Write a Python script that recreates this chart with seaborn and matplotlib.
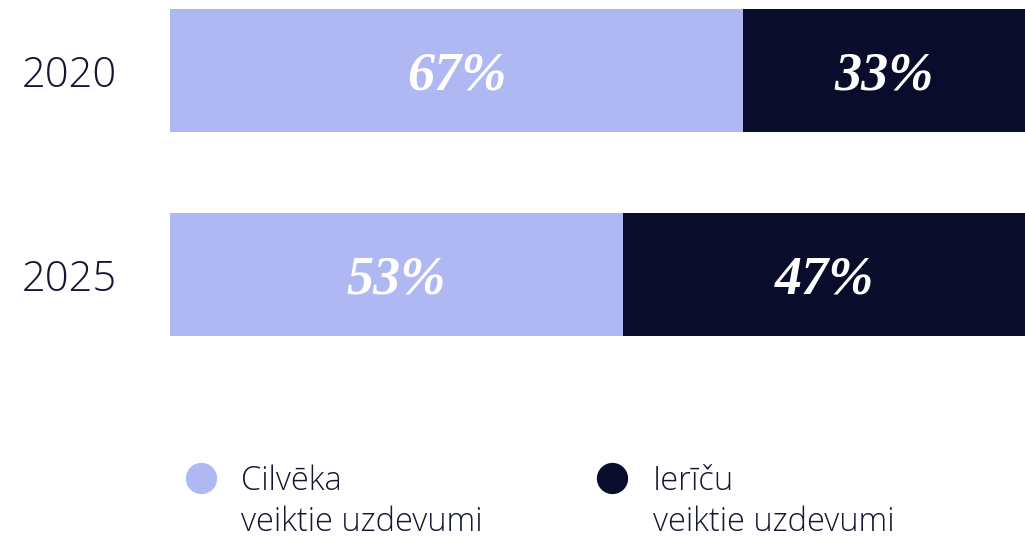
import matplotlib
matplotlib.use('Agg')
import matplotlib.pyplot as plt
from matplotlib.lines import Line2D
import pandas as pd
import seaborn as sns

YEARS = ['2020', '2025']
HUMAN = [67, 53]
MACHINE = [33, 47]
LEGEND_LABELS = ['Cilvēka\nveiktie uzdevumi', 'Ierīču\nveiktie uzdevumi']

LIGHT = '#b0b8f4'
DARK = '#0a0c2b'
TEXT = '#151834'


def main():
    sns.set_style('white')
    plt.rcParams['font.family'] = ['Open Sans', 'DejaVu Sans']

    df = pd.DataFrame({'year': YEARS, 'human': HUMAN, 'machine': MACHINE})
    df['total'] = df['human'] + df['machine']

    fig = plt.figure(figsize=(10.25, 5.39), dpi=100)
    ax = fig.add_axes([170 / 1025, 1 - 345 / 539, 1 - 170 / 1025, 345 / 539])

    # stacked: full bar in dark, then the human share on top in light
    sns.barplot(data=df, x='total', y='year', color=DARK, width=0.603,
                saturation=1, linewidth=0, ax=ax, orient='h')
    sns.barplot(data=df, x='human', y='year', color=LIGHT, width=0.603,
                saturation=1, linewidth=0, ax=ax, orient='h')

    pct_font = dict(color='white', fontsize=39, fontweight='bold',
                    fontstyle='italic', family='Liberation Serif',
                    ha='center', va='center_baseline')
    for i, row in df.iterrows():
        ax.text(row.human / 2, i, f'{row.human}%', **pct_font)
        ax.text(row.human + row.machine / 2, i, f'{row.machine}%', **pct_font)

    ax.set_xlim(0, 100)
    ax.set_ylim(1.3456, -0.3456)
    ax.set_xlabel('')
    ax.set_ylabel('')
    ax.set_xticks([])
    sns.despine(ax=ax, left=True, bottom=True)
    ax.tick_params(axis='y', length=0, pad=38)
    for lbl in ax.get_yticklabels():
        lbl.set_fontsize(30)
        lbl.set_fontweight('light')
        lbl.set_color(TEXT)

    handles = [Line2D([], [], marker='o', linestyle='', markersize=21.5, color=c)
               for c in (LIGHT, DARK)]
    leg = fig.legend(handles, LEGEND_LABELS, loc='upper left',
                     bbox_to_anchor=(186 / 1025, 1 - 464 / 539), ncol=2,
                     frameon=False, borderpad=0, borderaxespad=0,
                     handlelength=0.9, handletextpad=0.8, columnspacing=3.5,
                     prop={'size': 23.5, 'weight': 'light'})
    for t in leg.get_texts():
        t.set_linespacing(1.3)
        t.set_color(TEXT)
    for h in leg.legend_handles:
        h.set_ydata([y + 18 for y in h.get_ydata()])

    fig.savefig('out.png', dpi=100)


if __name__ == '__main__':
    main()
